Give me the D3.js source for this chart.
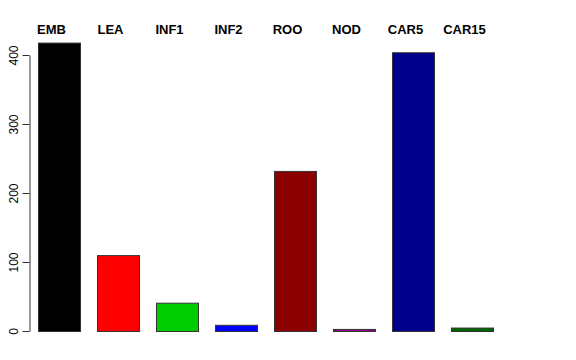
<!DOCTYPE html>
<html><head><meta charset="utf-8">
<script src="https://cdn.jsdelivr.net/npm/d3@7/dist/d3.min.js"></script>
<style>html,body{margin:0;padding:0;background:#fff;}svg{display:block;}</style>
</head><body>
<script>
const categories = ["EMB","LEA","INF1","INF2","ROO","NOD","CAR5","CAR15"];
const values = [418, 110, 41, 9, 232, 3, 404, 5];
const colors = ["#000000","#FF0000","#00CD00","#0000FF","#8B0000","#8B008B","#00008B","#006400"];
const yTicks = [0,100,200,300,400];

const W = 576, H = 360;
const svg = d3.select("body").append("svg").attr("width", W).attr("height", H);

const x = d3.scaleBand().domain(categories).range([38, 493]).paddingInner(17/59).paddingOuter(0);
const y = d3.scaleLinear().domain([0, 400]).range([331, 55]);

svg.append("g").selectAll("rect").data(categories).join("rect")
  .attr("x", d => x(d) + 0.5)
  .attr("y", (d,i) => y(values[i]) + 0.5)
  .attr("width", x.bandwidth())
  .attr("height", (d,i) => y(0) - y(values[i]))
  .attr("fill", (d,i) => colors[i])
  .attr("stroke", "#333")
  .attr("stroke-width", 1);

const ax = svg.append("g").attr("transform", "translate(29.5,0)")
  .call(d3.axisLeft(y).tickValues(yTicks).tickSize(7).tickSizeOuter(0).tickPadding(0).tickFormat(d3.format("d")));
ax.select(".domain").attr("stroke", "#333");
ax.selectAll(".tick line").attr("stroke", "#333");
ax.selectAll(".tick text").remove();
ax.selectAll(".tick").append("text")
  .attr("transform", "translate(-12,0) rotate(-90)")
  .attr("text-anchor", "middle")
  .attr("fill", "#000")
  .style("font-family", "Liberation Sans, Arial, sans-serif")
  .style("font-size", "12px")
  .text(d => d);

svg.append("g").selectAll("text").data(categories).join("text")
  .attr("x", d => x(d) + x.bandwidth()/2 - 7.5)
  .attr("y", 34)
  .attr("text-anchor", "middle")
  .style("font-family", "Liberation Sans, Arial, sans-serif")
  .style("font-size", "13px")
  .style("font-weight", "bold")
  .text(d => d);
</script>
</body></html>
